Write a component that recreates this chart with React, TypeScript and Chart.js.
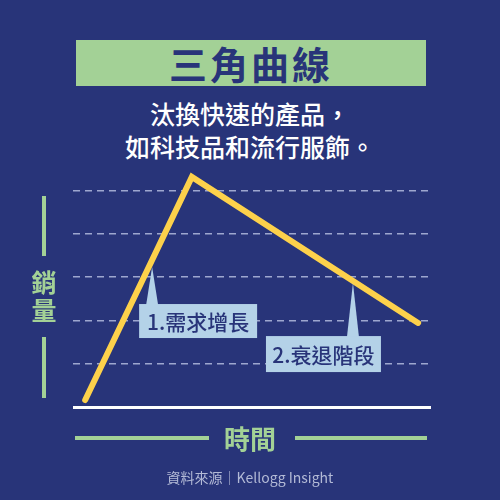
import { useEffect, useRef } from 'react';
import { Chart, registerables } from 'chart.js';

Chart.register(...registerables);

// 時間軸 (0-100) 與銷量
const timeX = [3.4, 33.2, 96.4];
const sales = [0.16, 5.31, 1.94];
const yTicks = [0, 1, 2, 3, 4, 5, 6];

// 標註
const calloutLabels = ['1.需求增長', '2.衰退階段'];
const calloutX = [22.1, 78.2];
const calloutY = [3.23, 2.86];

const BG = '#283479';
const GREEN = '#a3d196';
const YELLOW = '#fdd14b';
const CALLOUT = '#b4d2e8';
const FONT = '"Noto Sans CJK TC", "Noto Sans", sans-serif';

// box offsets relative to the pointer tip
const calloutBox = [
  { dx: -13, dy: 37, w: 118, h: 34 },
  { dx: -87, dy: 53, w: 115, h: 36 },
];

const calloutPlugin = {
  id: 'callouts',
  afterDatasetsDraw(chart: Chart) {
    const { ctx, scales } = chart;
    const x = scales.x;
    const y = scales.y;

    // baseline
    ctx.save();
    ctx.strokeStyle = '#ffffff';
    ctx.lineWidth = 3;
    ctx.beginPath();
    ctx.moveTo(chart.chartArea.left, y.getPixelForValue(0) + 0.5);
    ctx.lineTo(chart.chartArea.right, y.getPixelForValue(0) + 0.5);
    ctx.stroke();

    calloutLabels.forEach((label, i) => {
      const tx = x.getPixelForValue(calloutX[i]);
      const ty = y.getPixelForValue(calloutY[i]);
      const b = calloutBox[i];
      const left = tx + b.dx;
      const top = ty + b.dy;
      ctx.fillStyle = CALLOUT;
      ctx.beginPath();
      ctx.moveTo(tx, ty);
      ctx.lineTo(tx + 6, top + 1);
      ctx.lineTo(tx - 6, top + 1);
      ctx.closePath();
      ctx.fill();
      ctx.fillRect(left, top, b.w, b.h);
      ctx.fillStyle = BG;
      ctx.font = `500 21px ${FONT}`;
      ctx.textAlign = 'center';
      ctx.textBaseline = 'middle';
      ctx.fillText(label, left + b.w / 2, top + b.h / 2 + 1);
    });
    ctx.restore();
  },
};

function ChartCanvas() {
  const chartRef = useRef<HTMLCanvasElement>(null);
  const chartInstanceRef = useRef<Chart | null>(null);

  useEffect(() => {
    const ctx = chartRef.current?.getContext('2d');
    if (!ctx) return;
    if (chartInstanceRef.current) chartInstanceRef.current.destroy();

    chartInstanceRef.current = new Chart(ctx, {
      type: 'line',
      data: {
        datasets: [
          {
            data: timeX.map((t, i) => ({ x: t, y: sales[i] })),
            borderColor: YELLOW,
            borderWidth: 6,
            borderCapStyle: 'round',
            borderJoinStyle: 'miter',
            pointRadius: 0,
            tension: 0,
          },
        ],
      },
      options: {
        responsive: false,
        animation: false,
        layout: { padding: { left: 73, right: 69, top: 147, bottom: 93 } },
        plugins: { legend: { display: false }, tooltip: { enabled: false } },
        scales: {
          x: { type: 'linear', min: 0, max: 100, display: false },
          y: {
            min: 0,
            max: 6,
            afterBuildTicks: (s: any) => {
              s.ticks = yTicks.map((v) => ({ value: v }));
            },
            ticks: { display: false },
            border: { display: false, dash: [7, 5] },
            grid: {
              drawTicks: false,
              lineWidth: 1.5,
              color: (c: any) =>
                c.tick && c.tick.value > 0 && c.tick.value < 6 ? '#9ea7cf' : 'transparent',
            },
          },
        },
      },
      plugins: [calloutPlugin],
    });

    return () => {
      if (chartInstanceRef.current) chartInstanceRef.current.destroy();
    };
  }, []);

  return <canvas ref={chartRef} width={500} height={500} style={{ position: 'absolute', left: 0, top: 0 }} />;
}

export default function App() {
  useEffect(() => {
    document.body.style.margin = '0';
  }, []);

  const abs = (s: React.CSSProperties): React.CSSProperties => ({ position: 'absolute', ...s });

  return (
    <div style={{ position: 'relative', width: 500, height: 500, background: BG, fontFamily: FONT, overflow: 'hidden' }}>
      <div
        style={abs({
          left: 76, top: 40, width: 350, height: 46, background: GREEN, color: BG,
          fontSize: 38, fontWeight: 700, letterSpacing: 3, lineHeight: '46px', textAlign: 'center',
        })}
      >
        三角曲線
      </div>
      <div
        style={abs({
          left: 0, top: 97, width: 500, color: '#ffffff', fontSize: 25, fontWeight: 500,
          lineHeight: '33px', textAlign: 'center',
        })}
      >
        汰換快速的產品，
        <br />
        如科技品和流行服飾。
      </div>

      <ChartCanvas />

      {/* y 軸標題 */}
      <div style={abs({ left: 42, top: 196, width: 4, height: 60, background: GREEN })} />
      <div
        style={abs({
          left: 28, top: 267, width: 32, color: GREEN, fontSize: 25, fontWeight: 700,
          lineHeight: '28px', textAlign: 'center',
        })}
      >
        銷<br />量
      </div>
      <div style={abs({ left: 42, top: 337, width: 4, height: 61, background: GREEN })} />

      {/* x 軸標題 */}
      <div style={abs({ left: 75, top: 436, width: 134, height: 4, background: GREEN })} />
      <div
        style={abs({
          left: 200, top: 420, width: 100, color: GREEN, fontSize: 26, fontWeight: 700,
          lineHeight: '36px', textAlign: 'center',
        })}
      >
        時間
      </div>
      <div style={abs({ left: 295, top: 436, width: 132, height: 4, background: GREEN })} />

      <div
        style={abs({
          left: 0, top: 466, width: 500, color: '#b3bad6', fontSize: 14,
          lineHeight: '22px', textAlign: 'center',
        })}
      >
        資料來源｜Kellogg Insight
      </div>
    </div>
  );
}
